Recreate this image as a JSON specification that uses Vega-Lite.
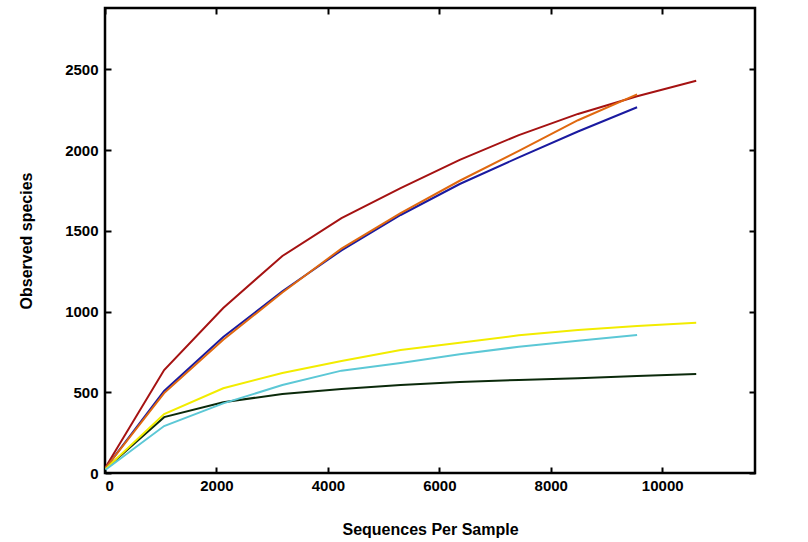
{
  "$schema": "https://vega.github.io/schema/vega-lite/v6.json",
  "width": 650,
  "height": 465,
  "autosize": "none",
  "padding": {"left": 105, "top": 8, "right": 53, "bottom": 69},
  "config": {
    "view": {"stroke": "#000000", "strokeWidth": 2.5},
    "axis": {
      "domain": false,
      "grid": false,
      "tickColor": "#000000",
      "tickWidth": 2,
      "tickSize": 6,
      "offset": -6,
      "format": "d"
    }
  },
  "data": {
    "values": [
      {"s": "TR1", "x": 10, "y": 35}, {"s": "TR1", "x": 1061, "y": 638}, {"s": "TR1", "x": 2122, "y": 1022}, {"s": "TR1", "x": 3183, "y": 1344}, {"s": "TR1", "x": 4244, "y": 1579}, {"s": "TR1", "x": 5305, "y": 1765}, {"s": "TR1", "x": 6366, "y": 1939}, {"s": "TR1", "x": 7427, "y": 2093}, {"s": "TR1", "x": 8488, "y": 2224}, {"s": "TR1", "x": 9549, "y": 2333}, {"s": "TR1", "x": 10610, "y": 2429},
      {"s": "TR2", "x": 10, "y": 30}, {"s": "TR2", "x": 1061, "y": 508}, {"s": "TR2", "x": 2122, "y": 842}, {"s": "TR2", "x": 3183, "y": 1126}, {"s": "TR2", "x": 4244, "y": 1379}, {"s": "TR2", "x": 5305, "y": 1598}, {"s": "TR2", "x": 6366, "y": 1790}, {"s": "TR2", "x": 7427, "y": 1955}, {"s": "TR2", "x": 8488, "y": 2115}, {"s": "TR2", "x": 9549, "y": 2265},
      {"s": "TR3", "x": 10, "y": 30}, {"s": "TR3", "x": 1061, "y": 495}, {"s": "TR3", "x": 2122, "y": 825}, {"s": "TR3", "x": 3183, "y": 1118}, {"s": "TR3", "x": 4244, "y": 1390}, {"s": "TR3", "x": 5305, "y": 1610}, {"s": "TR3", "x": 6366, "y": 1810}, {"s": "TR3", "x": 7427, "y": 1995}, {"s": "TR3", "x": 8488, "y": 2185}, {"s": "TR3", "x": 9549, "y": 2345},
      {"s": "TR4", "x": 10, "y": 25}, {"s": "TR4", "x": 1061, "y": 346}, {"s": "TR4", "x": 2122, "y": 438}, {"s": "TR4", "x": 3183, "y": 490}, {"s": "TR4", "x": 4244, "y": 520}, {"s": "TR4", "x": 5305, "y": 545}, {"s": "TR4", "x": 6366, "y": 564}, {"s": "TR4", "x": 7427, "y": 576}, {"s": "TR4", "x": 8488, "y": 587}, {"s": "TR4", "x": 9549, "y": 601}, {"s": "TR4", "x": 10610, "y": 613},
      {"s": "TR5", "x": 10, "y": 25}, {"s": "TR5", "x": 1061, "y": 365}, {"s": "TR5", "x": 2122, "y": 525}, {"s": "TR5", "x": 3183, "y": 619}, {"s": "TR5", "x": 4244, "y": 694}, {"s": "TR5", "x": 5305, "y": 762}, {"s": "TR5", "x": 6366, "y": 807}, {"s": "TR5", "x": 7427, "y": 853}, {"s": "TR5", "x": 8488, "y": 886}, {"s": "TR5", "x": 9549, "y": 910}, {"s": "TR5", "x": 10610, "y": 931},
      {"s": "TR6", "x": 10, "y": 20}, {"s": "TR6", "x": 1061, "y": 291}, {"s": "TR6", "x": 2122, "y": 431}, {"s": "TR6", "x": 3183, "y": 545}, {"s": "TR6", "x": 4244, "y": 634}, {"s": "TR6", "x": 5305, "y": 682}, {"s": "TR6", "x": 6366, "y": 735}, {"s": "TR6", "x": 7427, "y": 782}, {"s": "TR6", "x": 8488, "y": 819}, {"s": "TR6", "x": 9549, "y": 855}
    ]
  },
  "layer": [
    {
      "mark": {"type": "line", "strokeWidth": 2},
      "encoding": {
        "x": {"field": "x", "type": "quantitative", "scale": {"domain": [0, 11665]},
              "axis": {"orient": "bottom", "values": [0, 2000, 4000, 6000, 8000, 10000], "title": "Sequences Per Sample", "labelPadding": 5, "titlePadding": 28,
                       "labelFontWeight": "bold", "labelFontSize": 15, "titleFontSize": 16}},
        "y": {"field": "y", "type": "quantitative", "scale": {"domain": [0, 2880]},
              "axis": {"orient": "left", "values": [0, 500, 1000, 1500, 2000, 2500], "title": "Observed species", "labelPadding": 7, "titlePadding": 30,
                       "labelFontWeight": "bold", "labelFontSize": 15, "titleFontSize": 16}},
        "stroke": {"field": "s", "type": "nominal",
                   "scale": {"domain": ["TR1", "TR2", "TR3", "TR4", "TR5", "TR6"], "range": ["#a51212", "#1a1aa0", "#e0680f", "#0b2a0b", "#f2ec00", "#5cc8d6"]},
                   "legend": null}
      }
    },
    {
      "mark": {"type": "point", "shape": "square", "filled": true, "opacity": 0},
      "encoding": {
        "x": {"field": "x", "type": "quantitative", "scale": {"domain": [0, 11665]},
              "axis": {"orient": "top", "values": [0, 2000, 4000, 6000, 8000, 10000], "labels": false, "title": null}},
        "y": {"field": "y", "type": "quantitative", "scale": {"domain": [0, 2880]},
              "axis": {"orient": "right", "values": [0, 500, 1000, 1500, 2000, 2500], "labels": false, "title": null}},
        "fill": {"field": "s", "type": "nominal",
                 "scale": {"domain": ["TR1", "TR2", "TR3", "TR4", "TR5", "TR6"], "range": ["#ff0000", "#0000ff", "#f07010", "#087808", "#ffff00", "#72e8f0"]},
                 "legend": {"orient": "none", "legendX": 52, "legendY": 33, "title": null, "symbolType": "square", "symbolSize": 196, "symbolStrokeWidth": 0, "symbolOpacity": 1,
                            "labelFontWeight": "bold", "labelFontSize": 14, "labelOffset": 2, "rowPadding": 25}}
      }
    }
  ],
  "resolve": {"axis": {"x": "independent", "y": "independent"}}
}
